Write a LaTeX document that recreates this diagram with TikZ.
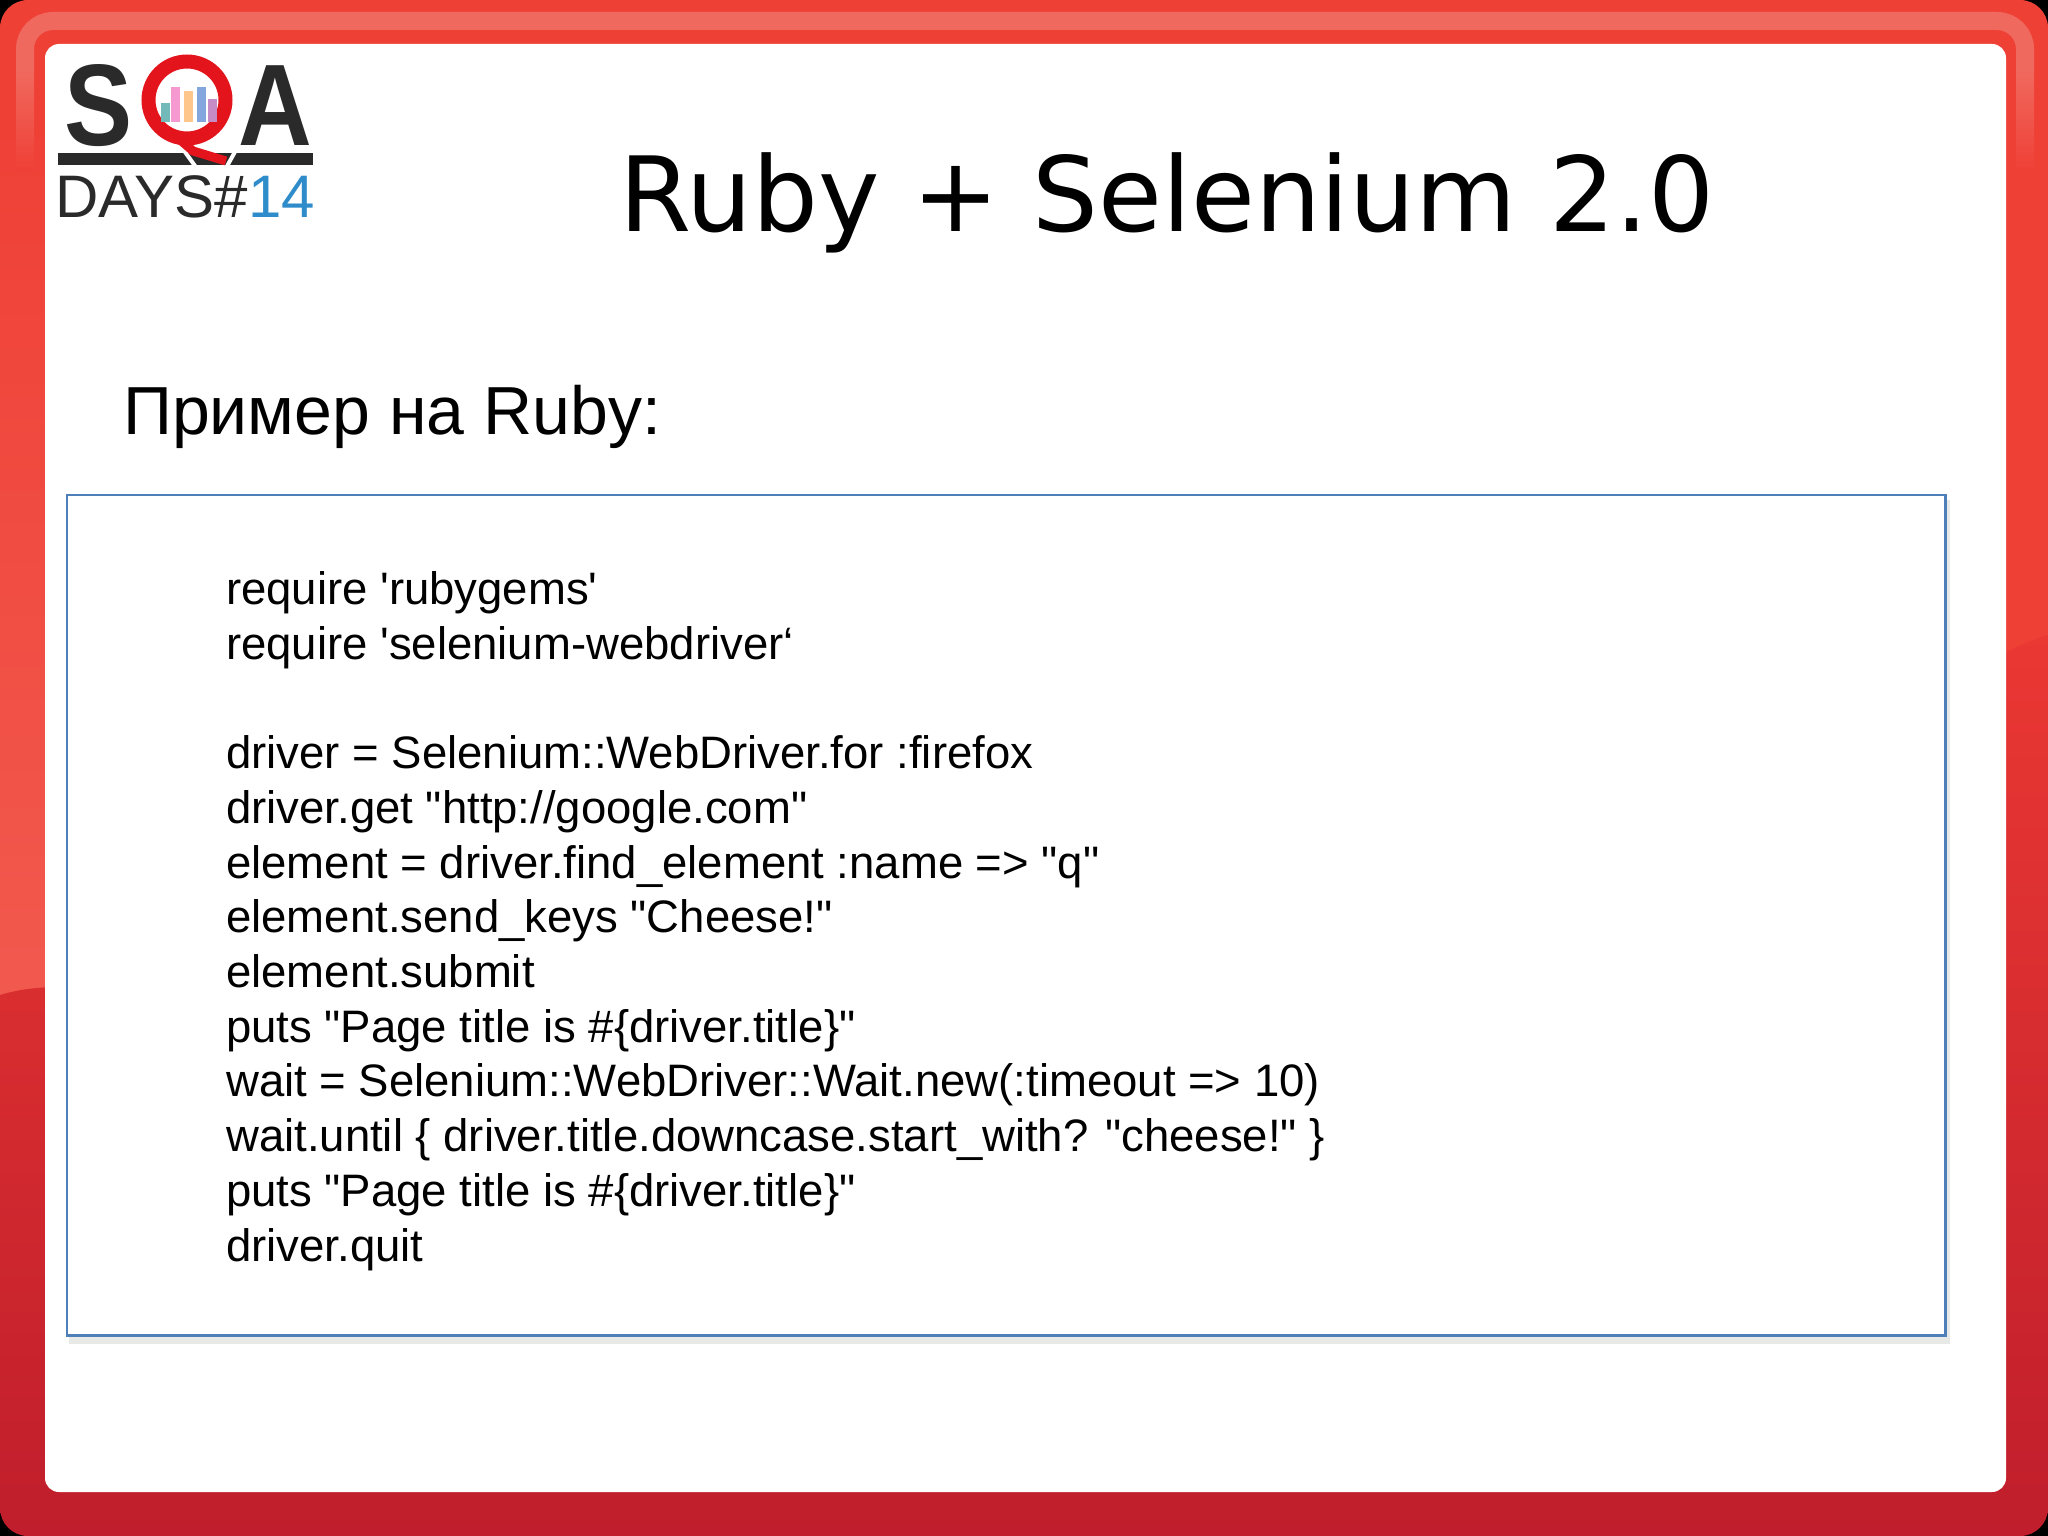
\documentclass[tikz,border=0pt]{standalone}
\usepackage{fontspec}
\newfontfamily\arialf{Liberation Sans}
\newfontfamily\dejaf{DejaVu Sans}
\definecolor{frameTop}{HTML}{EF4036}
\definecolor{frameMid}{HTML}{F2594E}
\definecolor{frameLowA}{HTML}{EA3833}
\definecolor{frameLowB}{HTML}{E02C2E}
\definecolor{frameEnd}{HTML}{C01E2C}
\definecolor{frameLight}{HTML}{F0695E}
\definecolor{boxBlue}{HTML}{4F7FB8}
\definecolor{boxShadow}{HTML}{E6E9E6}
\definecolor{logoDark}{HTML}{2A2A2A}
\definecolor{logoBlue}{HTML}{2F8CCB}
\definecolor{logoRed}{HTML}{E3141C}
\tikzset{
  titletext/.style={anchor=base west,inner sep=0pt,font=\dejaf\fontsize{103.8}{110}\selectfont,text=black},
  subtext/.style={anchor=base west,inner sep=0pt,font=\arialf\fontsize{68}{74}\selectfont,text=black},
  codetext/.style={anchor=base west,inner sep=0pt,font=\arialf\fontsize{45.5}{54.7}\selectfont,text=black},
  logobig/.style={anchor=base west,inner sep=0pt,xscale=0.88,font=\arialf\bfseries\fontsize{116}{116}\selectfont,text=logoDark},
  logosmall/.style={anchor=base west,inner sep=0pt,font=\arialf\fontsize{60}{60}\selectfont,text=logoDark},
}
\begin{document}
\begin{tikzpicture}[x=1pt,y=-1pt]
\useasboundingbox (0,0) rectangle (2048,1536);
% corners
\fill[black] (0,0) rectangle (2048,1536);
% frame
\begin{scope}
  \clip[rounded corners=28pt] (0,0) rectangle (2048,1536);
  \fill[frameTop] (0,0) rectangle (2048,1000);
  \shade[top color=frameTop,bottom color=frameMid] (0,120) rectangle (46,1000);
  \shade[top color=frameLowA,middle color=frameLowB,bottom color=frameEnd] (0,995) .. controls (20,989) and (35,988) .. (50,987) -- (2000,655) .. controls (2015,648) and (2030,640) .. (2048,635) -- (2048,1536) -- (0,1536) -- cycle;
  % light inner strip
  \draw[frameLight,line width=18pt,rounded corners=28pt] (25,70) -- (25,21) -- (2025,21) -- (2025,70);
  \shade[top color=frameLight,bottom color=frameTop] (16,70) rectangle (34,170);
  \shade[top color=frameLight,bottom color=frameTop] (2016,70) rectangle (2034,170);
\end{scope}
% white panel
\fill[white,rounded corners=14pt] (45,44) rectangle (2006,1492);
% code box shadow and box
\fill[boxShadow] (69,500) rectangle (1950,1344);
\node[draw=boxBlue,line width=2.8pt,fill=white,inner sep=0pt,outer sep=0pt,anchor=north west,minimum width=1878.7pt,minimum height=840.7pt] (codebox) at (67,495) {};
% logo
\node[logobig] (logoS) at (64,146) {S};
\node[logobig] (logoA) at (238,146) {A};
\fill[logoDark] (58,153) rectangle (313,165);
\draw[white,line width=4pt] (172,134) -- (198,170);
\draw[white,line width=4pt] (236,150) -- (226,168);
\draw[logoRed,line width=14pt] (187,100) circle (38.5);
\draw[logoRed,line width=9pt] (178,138) -- (193,151) -- (226,161);
\foreach \bx/\bt/\bc in {165/103/teal!55,175/87/magenta!40,188/91/orange!45,201/87/cyan!50!blue!50,212/99/violet!45} {
  \fill[\bc] (\bx-4.5,\bt) rectangle (\bx+4.5,122);
}
\node[logosmall] (logoDays) at (55,217) {DAYS\#};
\node[logosmall,text=logoBlue] (logoNum) at (248,217) {14};
% title
\node[titletext] (title) at (619,231) {Ruby + Selenium 2.0};
\node[subtext] (sub) at (123,434.5) {Пример на Ruby:};
% code
\node[codetext,align=left,anchor=north west] (code) at (226,571.5) {%
require 'rubygems'\\
require 'selenium-webdriver‘\\
\mbox{}\\
driver = Selenium::WebDriver.for :firefox\\
driver.get "http://google.com"\\
element = driver.find\_element :name => "q"\\
element.send\_keys "Cheese!"\\
element.submit\\
puts "Page title is \#\{driver.title\}"\\
wait = Selenium::WebDriver::Wait.new(:timeout => 10)\\
wait.until \{ driver.title.downcase.start\_with? "cheese!" \}\\
puts "Page title is \#\{driver.title\}"\\
driver.quit};
\end{tikzpicture}
\end{document}
